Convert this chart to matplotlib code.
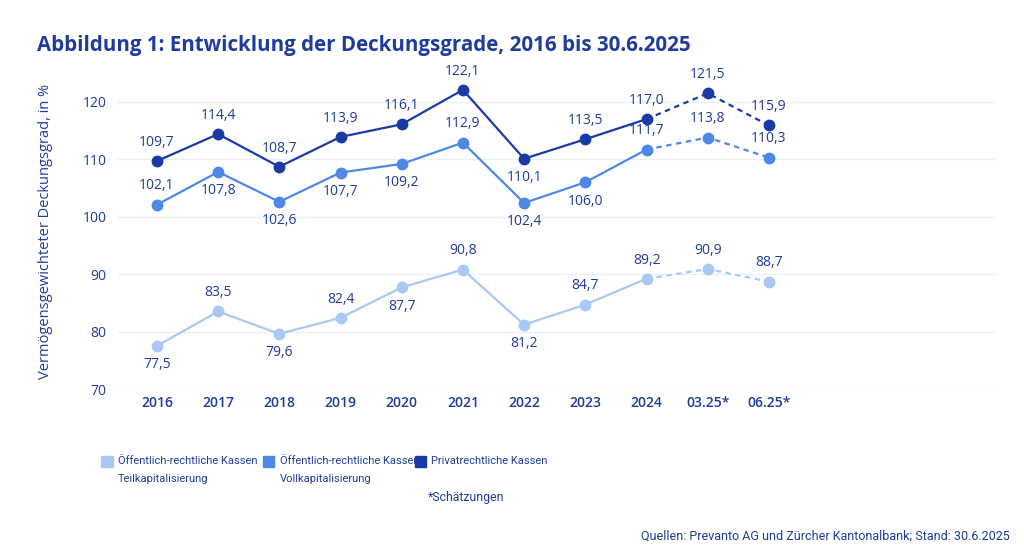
import matplotlib.pyplot as plt
from matplotlib.patches import Rectangle

plt.rcParams['font.family'] = ['Open Sans', 'DejaVu Sans']

categories = ['2016', '2017', '2018', '2019', '2020', '2021', '2022', '2023', '2024', '03.25*', '06.25*']
teil = [77.5, 83.5, 79.6, 82.4, 87.7, 90.8, 81.2, 84.7, 89.2, 90.9, 88.7]
voll = [102.1, 107.8, 102.6, 107.7, 109.2, 112.9, 102.4, 106.0, 111.7, 113.8, 110.3]
privat = [109.7, 114.4, 108.7, 113.9, 116.1, 122.1, 110.1, 113.5, 117.0, 121.5, 115.9]

# label above (1) or below (-1)
teil_pos = [-1, 1, -1, 1, -1, 1, -1, 1, 1, 1, 1]
voll_pos = [1, -1, -1, -1, -1, 1, -1, -1, 1, 1, 1]
privat_pos = [1, 1, 1, 1, 1, 1, -1, 1, 1, 1, 1]

legend_labels = ['Öffentlich-rechtliche Kassen\nTeilkapitalisierung',
                 'Öffentlich-rechtliche Kassen\nVollkapitalisierung',
                 'Privatrechtliche Kassen']

C_LIGHT = '#a9c9f2'
C_MID = '#4f87e6'
C_DARK = '#1a3aa6'
C_TEXT = '#1f3b9e'
N_SOLID = 9  # up to 2024 solid, then estimates dashed
NARROW = ['Roboto', 'DejaVu Sans']

fig = plt.figure(figsize=(10.24, 5.57), dpi=100)
ax = fig.add_axes([0.115, 0.3016, 0.857, 0.567])

x = list(range(len(categories)))
for vals, pos, col in [(teil, teil_pos, C_LIGHT), (voll, voll_pos, C_MID), (privat, privat_pos, C_DARK)]:
    ax.plot(x[:N_SOLID], vals[:N_SOLID], color=col, lw=1.6, zorder=3)
    ax.plot(x[N_SOLID - 1:], vals[N_SOLID - 1:], color=col, lw=1.6, ls=(0, (2.5, 2)), zorder=3)
    ax.plot(x, vals, ls='none', marker='o', ms=7.5, color=col, zorder=4)
    for xi, v, p in zip(x, vals, pos):
        ax.annotate(f'{v:.1f}'.replace('.', ','), (xi, v), xytext=(0, 13.5 * p),
                    textcoords='offset points', ha='center', va='center',
                    fontsize=10, color=C_TEXT, zorder=5)

ax.set_xlim(-0.64, 13.7)
ax.set_ylim(70, 125)
ax.set_yticks([70, 80, 90, 100, 110, 120])
ax.set_xticks(x)
ax.set_xticklabels(categories)
ax.grid(axis='y', color='#e9f0f8', lw=1)
ax.set_axisbelow(True)
for s in ax.spines.values():
    s.set_visible(False)
ax.tick_params(length=0, labelsize=10, colors=C_TEXT)
ax.tick_params(axis='x', pad=5)
ax.tick_params(axis='y', pad=8)
for t in ax.get_xticklabels():
    t.set_fontweight('semibold')
ax.set_ylabel('Vermögensgewichteter Deckungsgrad, in %', fontsize=10.5, color=C_TEXT)
ax.yaxis.set_label_coords(-0.074, 0.5)

fig.text(0.036, 0.918, 'Abbildung 1: Entwicklung der Deckungsgrade, 2016 bis 30.6.2025',
         fontsize=14.8, fontweight='bold', color=C_TEXT, va='center')

# legend
leg_x = [0.099, 0.257, 0.405]
for lx, lab, col in zip(leg_x, legend_labels, [C_LIGHT, C_MID, C_DARK]):
    fig.patches.append(Rectangle((lx, 0.161), 0.011, 0.021, transform=fig.transFigure,
                                 color=col))
    fig.text(lx + 0.016, 0.182, lab, fontsize=8.0, color=C_TEXT, va='top', linespacing=2.0,
             family=NARROW)
fig.text(0.418, 0.106, '*Schätzungen', fontsize=8.8, color=C_TEXT, va='center', family=NARROW)
fig.text(0.986, 0.038, 'Quellen: Prevanto AG und Zürcher Kantonalbank; Stand: 30.6.2025',
         fontsize=9, color=C_TEXT, ha='right', va='center', family=NARROW)

fig.savefig('out.png', dpi=100)
